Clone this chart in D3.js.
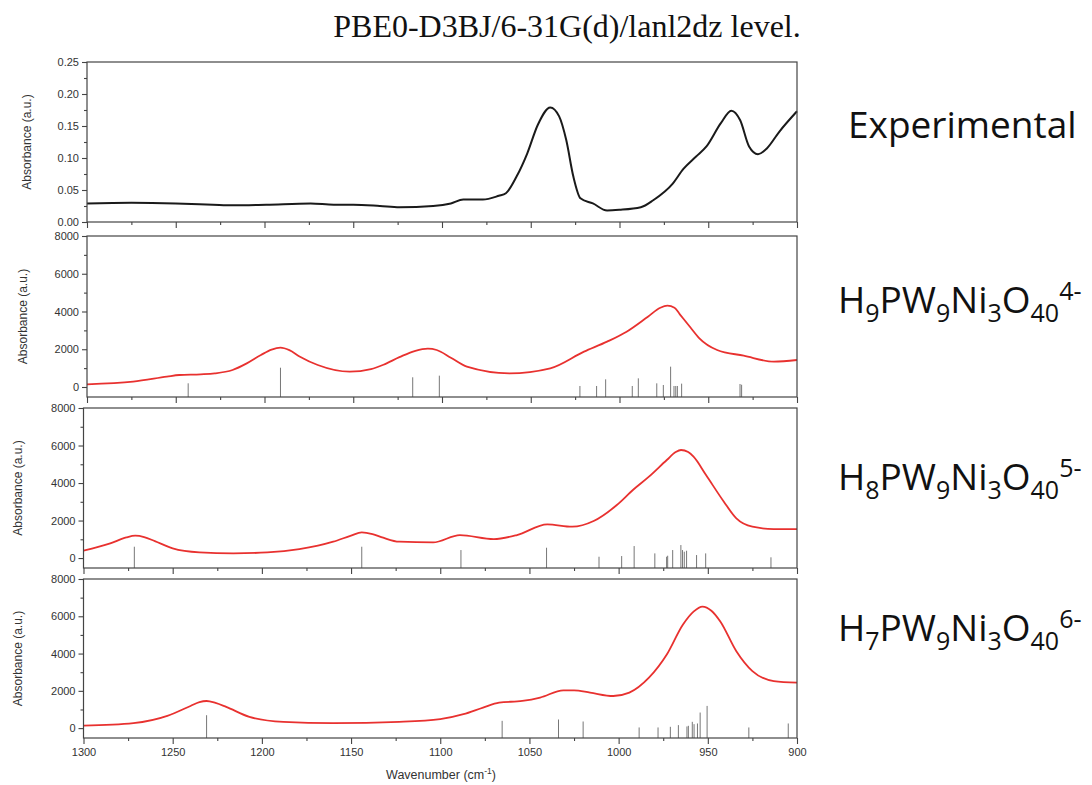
<!DOCTYPE html>
<html><head><meta charset="utf-8">
<script src="https://cdn.jsdelivr.net/npm/d3@7"></script>
<style>body{margin:0;background:#fff} svg{display:block}</style>
</head><body>
<svg id="c" width="1092" height="785"></svg>
<script>
// ---------- DATA ----------
const titleText = "PBE0-D3BJ/6-31G(d)/lanl2dz level.";
const xMajorTicks = [1300, 1250, 1200, 1150, 1100, 1050, 1000, 950, 900];
const xMinorTicks = [1275, 1225, 1175, 1125, 1075, 1025, 975, 925];
const expYTicks = [0.00, 0.05, 0.10, 0.15, 0.20, 0.25];
const expYMinor = [0.025, 0.075, 0.125, 0.175, 0.225];
const simYTicks = [0, 2000, 4000, 6000, 8000];
const simYMinor = [1000, 3000, 5000, 7000];
const yAxisLabel = "Absorbance (a.u.)";
const xAxisLabel = "Wavenumber (cm";

// Experimental spectrum
const expWn  = [1300,1275,1250,1229,1218,1199,1174,1161,1150,1135,1124,1105,1095,1088,1077,1068,1064,1058,1052,1046,1039,1034,1030,1026,1022,1015,1007,1000,988,981,970,964,957,951,943,937,932,927,922,917,910,900];
const expAbs = [0.029,0.030,0.029,0.027,0.026,0.027,0.029,0.027,0.027,0.025,0.023,0.025,0.029,0.035,0.035,0.041,0.045,0.071,0.107,0.152,0.179,0.165,0.128,0.071,0.037,0.029,0.018,0.019,0.023,0.034,0.060,0.083,0.102,0.118,0.154,0.174,0.159,0.118,0.106,0.115,0.141,0.173];

// H9PW9Ni3O40 4-
const h9Wn  = [1300,1274,1255,1248,1236,1228,1218,1210,1202,1196,1191,1186,1180,1170,1152,1140,1133,1124,1115,1108,1103,1095,1086,1062,1039,1020,1007,996,984,977,973,969,966,960,955,945,930,913,900];
const h9Abs = [143,282,546,636,671,720,900,1250,1695,1980,2083,1950,1607,1166,812,950,1180,1580,1920,2030,1960,1550,1077,724,989,1872,2402,2932,3725,4200,4309,4200,3850,3150,2580,1960,1660,1342,1430];
const h9StickWn  = [1243,1191,1116.5,1101.5,1022.3,1012.9,1007.8,992.8,989.4,979.0,975.3,971.2,969.3,968.3,967.4,965.0,932.1,931.2];
const h9StickInt = [196,1022,514,600,53,53,406,53,459,194,106,1077,53,53,53,177,159,120];

// H8PW9Ni3O40 5-
const h8Wn  = [1300,1285,1276,1271,1266,1260,1250,1235,1216,1197,1179,1160,1150,1144,1138,1132,1123,1104,1089,1070,1057,1040,1026,1014,1001,992,983,973,968,965,961,958,951,941,934,925,913,900];
const h8Abs = [391,782,1100,1191,1120,900,516,302,249,302,480,871,1200,1369,1280,1084,871,836,1227,1013,1227,1796,1671,1973,2827,3627,4338,5227,5650,5760,5650,5404,4427,3004,2116,1671,1547,1547];
const h8StickWn  = [1271.5,1144,1088.4,1040.4,1011,998.3,991.3,979.7,973.1,972.5,969.7,965.1,964.2,963.2,961.9,956.3,951.2,914.6];
const h8StickInt = [604,604,427,551,71,107,640,249,71,124,427,693,427,338,391,160,249,40];

// H7PW9Ni3O40 6-
const h7Wn  = [1300,1272,1253,1240,1235,1231,1226,1220,1207,1188,1160,1123,1100,1087,1076,1067,1054,1044,1031,1025,1016,1003,994,983,973,964,958,953,948,943,934,925,913,900];
const h7Abs = [130,267,656,1189,1400,1456,1350,1136,603,336,267,336,480,747,1104,1371,1456,1637,2027,2027,1904,1723,1904,2704,3947,5547,6250,6523,6300,5723,4123,3056,2523,2437];
const h7StickWn  = [1231,1065.3,1033.7,1019.9,988.5,977.9,971.0,966.5,961.7,960.9,958.7,957.7,955.8,954.3,950.4,927,904.9];
const h7StickInt = [693,391,462,356,36,36,71,160,89,124,338,213,249,836,1191,36,249];

// right-hand labels: [text, kind]
const labelExp = "Experimental";
const labelH9 = [["H",""],["9","sub"],["PW",""],["9","sub"],["Ni",""],["3","sub"],["O",""],["40","sub"],["4-","sup"]];
const labelH8 = [["H",""],["8","sub"],["PW",""],["9","sub"],["Ni",""],["3","sub"],["O",""],["40","sub"],["5-","sup"]];
const labelH7 = [["H",""],["7","sub"],["PW",""],["9","sub"],["Ni",""],["3","sub"],["O",""],["40","sub"],["6-","sup"]];

// ---------- DRAW ----------
const svg = d3.select("#c");
const AX = "#444";
const FONT = "'Liberation Sans', Arial, sans-serif";

svg.append("text").attr("x", 567).attr("y", 37).attr("text-anchor", "middle")
  .attr("font-family", "'Liberation Serif', 'Times New Roman', serif")
  .attr("font-size", 32).attr("fill", "#111").text(titleText);

const panels = [
  {left: 87, right: 797, top: 62, bottom: 222, dom: [0, 0.25], yt: expYTicks, ym: expYMinor, fmt: d3.format(".2f"), ylx: 27,
   wn: expWn, val: expAbs, color: "#1a1a1a", width: 2},
  {left: 87, right: 797, top: 236, bottom: 397, dom: [-530, 8000], yt: simYTicks, ym: simYMinor, fmt: d3.format("d"), ylx: 23,
   wn: h9Wn, val: h9Abs, sw: h9StickWn, si: h9StickInt, color: "#e8312f", width: 1.8},
  {left: 83.5, right: 797, top: 408, bottom: 568, dom: [-530, 8000], yt: simYTicks, ym: simYMinor, fmt: d3.format("d"), ylx: 18,
   wn: h8Wn, val: h8Abs, sw: h8StickWn, si: h8StickInt, color: "#e8312f", width: 1.8},
  {left: 83.5, right: 797, top: 579, bottom: 738, dom: [-530, 8000], yt: simYTicks, ym: simYMinor, fmt: d3.format("d"), ylx: 18,
   wn: h7Wn, val: h7Abs, sw: h7StickWn, si: h7StickInt, color: "#e8312f", width: 1.8, xlabels: true}
];

panels.forEach(p => {
  const x = d3.scaleLinear().domain([1300, 900]).range([p.left, p.right]);
  const y = d3.scaleLinear().domain(p.dom).range([p.bottom, p.top]);
  const g = svg.append("g");

  if (p.sw) {
    g.selectAll("line.stick").data(p.sw.map((w, i) => [w, p.si[i]])).join("line")
      .attr("x1", d => x(d[0])).attr("x2", d => x(d[0]))
      .attr("y1", y(p.dom[0])).attr("y2", d => y(d[1]))
      .attr("stroke", "#777").attr("stroke-width", 1);
  }
  const line = d3.line().x(d => x(d[0])).y(d => y(d[1])).curve(d3.curveMonotoneX);
  g.append("path").datum(p.wn.map((w, i) => [w, p.val[i]]))
    .attr("d", line).attr("fill", "none").attr("stroke", p.color).attr("stroke-width", p.width)
    .attr("stroke-linejoin", "round");

  g.append("rect").attr("x", p.left).attr("y", p.top).attr("width", p.right - p.left).attr("height", p.bottom - p.top)
    .attr("fill", "none").attr("stroke", AX).attr("stroke-width", 1.2);

  const xMaj = g.append("g").attr("transform", `translate(0,${p.bottom})`)
    .call(d3.axisBottom(x).tickValues(xMajorTicks).tickSize(6).tickPadding(4)
      .tickFormat(p.xlabels ? d3.format("d") : ""));
  const xMin = g.append("g").attr("transform", `translate(0,${p.bottom})`)
    .call(d3.axisBottom(x).tickValues(xMinorTicks).tickSize(3).tickFormat(""));
  const yMaj = g.append("g").attr("transform", `translate(${p.left},0)`)
    .call(d3.axisLeft(y).tickValues(p.yt).tickSize(5).tickPadding(3).tickFormat(p.fmt));
  const yMin = g.append("g").attr("transform", `translate(${p.left},0)`)
    .call(d3.axisLeft(y).tickValues(p.ym).tickSize(3).tickFormat(""));
  [xMaj, xMin, yMaj, yMin].forEach(a => {
    a.select(".domain").remove();
    a.selectAll("line").attr("stroke", AX).attr("stroke-width", 1.1);
    a.selectAll("text").attr("font-family", FONT).attr("font-size", 11).attr("fill", "#333");
  });

  svg.append("text").attr("transform", `translate(${p.ylx},${(p.top + p.bottom) / 2}) rotate(-90)`)
    .attr("text-anchor", "middle").attr("dy", "0.35em")
    .attr("font-family", FONT).attr("font-size", 12).attr("fill", "#333").text(yAxisLabel);
});

const xt = svg.append("text").attr("x", 441).attr("y", 779).attr("text-anchor", "middle")
  .attr("font-family", FONT).attr("font-size", 12.5).attr("fill", "#333");
xt.append("tspan").text(xAxisLabel);
xt.append("tspan").attr("dy", -5).attr("font-size", 8.5).text("-1");
xt.append("tspan").attr("dy", 5).text(")");

const LFONT = "'Open Sans', 'Noto Sans', sans-serif";
svg.append("text").attr("x", 848).attr("y", 138).attr("font-family", LFONT)
  .attr("font-size", 37).attr("fill", "#111").text(labelExp);

function formula(parts, x0, yb) {
  const t = svg.append("text").attr("x", x0).attr("y", yb).attr("font-family", LFONT)
    .attr("font-size", 37).attr("fill", "#111");
  let cur = 0;
  parts.forEach(([s, k]) => {
    const target = k === "sub" ? 9 : k === "sup" ? -13 : 0;
    t.append("tspan").attr("dy", target - cur).attr("font-size", k ? 25 : 37).text(s);
    cur = target;
  });
}
formula(labelH9, 838, 313);
formula(labelH8, 838, 490);
formula(labelH7, 838, 641);
</script>
</body></html>
